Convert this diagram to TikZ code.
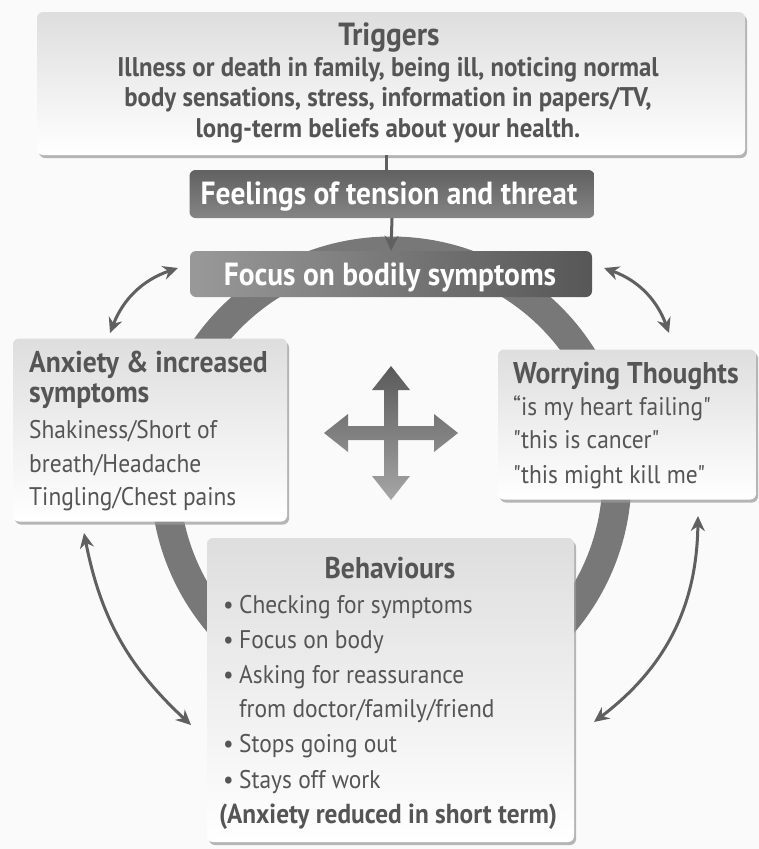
\documentclass[tikz,border=0pt]{standalone}
\usepackage{fontspec}
\setmainfont[FakeStretch=0.92]{PT Sans}
\newfontfamily\qfont[FakeStretch=0.92]{PT Sans}
\usetikzlibrary{shadows,arrows.meta}
\definecolor{bg}{HTML}{FAFAFA}
\definecolor{txt}{HTML}{555555}
\definecolor{arr}{HTML}{606060}
\definecolor{ringc}{HTML}{787878}
\begin{document}
\begin{tikzpicture}[x=1pt,y=-1pt,
  lightbox/.style={rounded corners=6pt, top color=black!13, bottom color=white, draw=none,
    drop shadow={shadow xshift=2pt,shadow yshift=-3pt,fill=black!40,opacity=0.7}, inner sep=0pt},
  darkbox/.style={rounded corners=6pt, draw=none, inner sep=0pt, text=white},
  ttl/.style={text=txt, font=\fontsize{30}{32}\selectfont\bfseries, inner sep=0pt},
  body/.style={text=txt, font=\fontsize{25.5}{30}\selectfont, inner sep=0pt, anchor=base west},
  dbl/.style={arr, line width=3pt, {Stealth[length=15pt,width=14pt]}-{Stealth[length=15pt,width=14pt]}},
  sgl/.style={arr, line width=3pt, -{Stealth[length=15pt,width=14pt]}}
]
\fill[bg] (0,0) rectangle (759,849);
\useasboundingbox (0,0) rectangle (759,849);

% ring
\draw[ringc, line width=29pt] (391,477) circle (226);

% triggers
\node[lightbox, minimum width=708pt, minimum height=143pt] (trig) at (391,83.5) {};
\node[ttl, anchor=base, font=\fontsize{32}{32}\selectfont\bfseries] (trigt) at (389,45) {Triggers};
\node[text=txt, anchor=base, font=\fontsize{27}{30.5}\selectfont\bfseries, align=center, inner sep=0pt] (trigb) at (388,137)
  {Illness or death in family, being ill, noticing normal\\ body sensations, stress, information in papers/TV,\\ long-term beliefs about your health.};

% feelings
\node[darkbox, minimum width=405pt, minimum height=48pt, top color=black!62, bottom color=black!48] (feel) at (392,194) {};
\node[text=white, anchor=base, font=\fontsize{32}{32}\selectfont\bfseries, inner sep=0pt] (feelt) at (389,204) {Feelings of tension and threat};

% focus
\node[darkbox, minimum width=402pt, minimum height=46pt, left color=black!40, right color=black!66] (focus) at (391,274) {};
\node[text=white, anchor=base, font=\fontsize{32}{32}\selectfont\bfseries, inner sep=0pt] (focust) at (390,285) {Focus on bodily symptoms};

\draw[arr, line width=3pt] (trig.south -| 386,0) -- (feel.north -| 386,0);
\draw[sgl] (feel.south) -- (focus.north);

% anxiety
\node[lightbox, minimum width=274pt, minimum height=183pt] (anx) at (150,430) {};
\node[ttl, anchor=base west] (anxt1) at (29,372) {Anxiety \& increased};
\node[ttl, anchor=base west] (anxt2) at (29,402) {symptoms};
\node[body] (anx1) at (29,438) {Shakiness/Short of};
\node[body] (anx2) at (29,472) {breath/Headache};
\node[body] (anx3) at (29,505) {Tingling/Chest pains};

% worrying
\node[lightbox, minimum width=258pt, minimum height=150pt] (wor) at (627,424.5) {};
\node[ttl, anchor=base west] (wort) at (513,383) {Worrying Thoughts};
\node[body, font=\fontsize{25.5}{30}\qfont] (wor1) at (513,415) {“is my heart failing"};
\node[body, font=\fontsize{25.5}{30}\qfont] (wor2) at (513,448) {"this is cancer"};
\node[body, font=\fontsize{25.5}{30}\qfont] (wor3) at (513,483) {"this might kill me"};

% behaviours
\node[lightbox, minimum width=367pt, minimum height=304pt] (beh) at (390.5,690) {};
\node[ttl, anchor=base] (beht) at (390,578) {Behaviours};
\foreach \y/\t [count=\i] in {613/Checking for symptoms, 648/Focus on body, 683/Asking for reassurance, 752/Stops going out, 788/Stays off work}{
  \node[body] (behb\i) at (223,\y) {\textbullet};
  \node[body] (beh\i) at (239,\y) {\t};
}
\node[body] (behx) at (239,717) {from doctor/family/friend};
\node[ttl, anchor=base west, font=\fontsize{27.5}{30}\selectfont\bfseries] (behz) at (219,823) {(Anxiety reduced in short term)};

% four-way arrow
\shade[top color=black!65, bottom color=black!35]
  (391,433) ++(0,-67) -- ++(19,24) -- ++(-12,0) -- ++(0,36) -- ++(36,0) -- ++(0,-12) -- ++(24,19)
  -- ++(-24,19) -- ++(0,-12) -- ++(-36,0) -- ++(0,36) -- ++(12,0) -- ++(-19,24) -- ++(-19,-24)
  -- ++(12,0) -- ++(0,-36) -- ++(-36,0) -- ++(0,12) -- ++(-24,-19) -- ++(24,-19) -- ++(0,12)
  -- ++(36,0) -- ++(0,-36) -- ++(-12,0) -- cycle;

% curved double arrows
\coordinate (ul1) at (178,268);
\coordinate (ul2) at (110,333);
\coordinate (ur1) at (604,268);
\coordinate (ur2) at (669,333);
\coordinate (ll1) at (84,533);
\coordinate (ll2) at (191,725);
\coordinate (lr1) at (698,516);
\coordinate (lr2) at (594,722);
\draw[dbl] (ul1) to[bend right=25] (ul2);
\draw[dbl] (ur1) to[bend left=25] (ur2);
\draw[dbl] (ll1) to[bend right=18] (ll2);
\draw[dbl] (lr1) to[bend left=26] (lr2);
\end{tikzpicture}
\end{document}
